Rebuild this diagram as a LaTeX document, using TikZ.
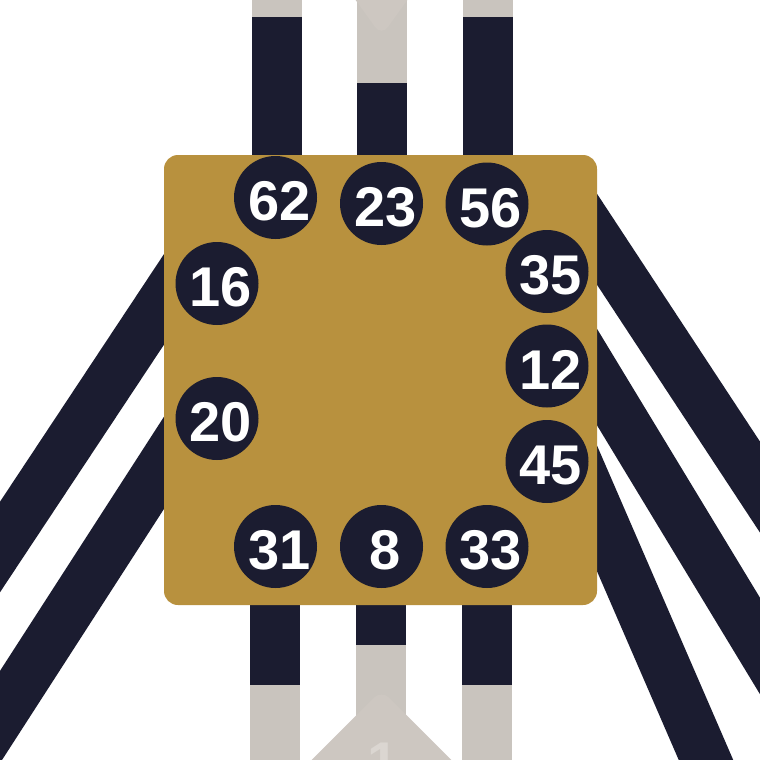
\documentclass[tikz,border=0pt]{standalone}
\usepackage{fontspec}
\setmainfont{Liberation Sans}
\usetikzlibrary{calc}
\definecolor{navy}{HTML}{1B1C30}
\definecolor{gold}{HTML}{B8913E}
\definecolor{wiregrey}{HTML}{C9C4BE}
\definecolor{trigrey}{HTML}{CDC7C1}
\definecolor{labelgrey}{HTML}{DBD6D1}
\begin{document}
\begin{tikzpicture}[x=1pt,y=-1pt,
  band/.style={line width=50pt, draw=navy, line cap=butt},
  greywire/.style={line width=50pt, draw=wiregrey, line cap=butt},
  pinc/.style={circle, fill=navy, minimum size=83pt, inner sep=0pt},
  pinlbl/.style={text=white, font=\fontsize{56}{60}\selectfont\bfseries, inner sep=0pt},
  chipbox/.style={fill=gold, rounded corners=14pt, minimum width=433pt, minimum height=450pt, inner sep=0pt},
  tri/.style={fill=trigrey, rounded corners=11pt},
]
\useasboundingbox (0,0) rectangle (760,760);
\clip (0,0) rectangle (760,760);

% ---- diagonal bands (behind the chip)
\coordinate (L1a) at (200,245);  \coordinate (L1b) at (-100,698);
\coordinate (L2a) at (200,407);  \coordinate (L2b) at (-100,872);
\coordinate (R1a) at (560,183);  \coordinate (R1b) at (900,700);
\coordinate (R2a) at (560,316);  \coordinate (R2b) at (900,877);
\coordinate (R3a) at (560,423);  \coordinate (R3b) at (800,977);
\draw[band] (L1a) -- (L1b);
\draw[band] (L2a) -- (L2b);
\draw[band] (R1a) -- (R1b);
\draw[band] (R2a) -- (R2b);
\draw[band] (R3a) -- (R3b);

% ---- vertical wires, top
\coordinate (TLtop) at (277,-5);   \coordinate (TLg) at (277,17);  \coordinate (TLin) at (277,200);
\coordinate (TMtop) at (381.5,-5); \coordinate (TMg) at (381.5,83); \coordinate (TMin) at (381.5,200);
\coordinate (TRtop) at (487.5,-5); \coordinate (TRg) at (487.5,17); \coordinate (TRin) at (487.5,200);
\draw[greywire] (TLtop) -- (TLg);  \draw[band] (TLg) -- (TLin);
\draw[greywire] (TMtop) -- (TMg);  \draw[band] (TMg) -- (TMin);
\draw[greywire] (TRtop) -- (TRg);  \draw[band] (TRg) -- (TRin);
\fill[tri] (347,-12) -- (381.5,36) -- (416,-12) -- cycle;

% ---- vertical wires, bottom
\coordinate (BLin) at (275,560);   \coordinate (BLg) at (275,685);   \coordinate (BLbot) at (275,765);
\coordinate (BMin) at (381,560);   \coordinate (BMg) at (381,645);   \coordinate (BMbot) at (381,765);
\coordinate (BRin) at (487,560);   \coordinate (BRg) at (487,685);   \coordinate (BRbot) at (487,765);
\draw[band] (BLin) -- (BLg);  \draw[greywire] (BLg) -- (BLbot);
\draw[band] (BMin) -- (BMg);  \draw[greywire] (BMg) -- (BMbot);
\draw[band] (BRin) -- (BRg);  \draw[greywire] (BRg) -- (BRbot);
\fill[tri] (271.5,800) -- (381.5,690) -- (491.5,800) -- cycle;
\node[text=labelgrey, font=\fontsize{56}{60}\selectfont\bfseries, inner sep=0pt] (one) at (383,762) {1};

% ---- chip
\node[chipbox] (chip) at (380.5,380) {};

% ---- pins
\foreach \n/\x/\y in {62/275.5/197.5, 23/381.5/203.5, 56/487/204,
                      16/217/283.5, 20/217/418.5,
                      35/547/271.5, 12/547/366, 45/547/461.5,
                      31/275.5/546.5, 8/381.5/546.5, 33/487/546.5}{
  \node[pinc] (c\n) at (\x,\y) {};
  \node[pinlbl] (t\n) at ($(c\n.center)+(4,4)$) {\n};
}
\end{tikzpicture}
\end{document}
